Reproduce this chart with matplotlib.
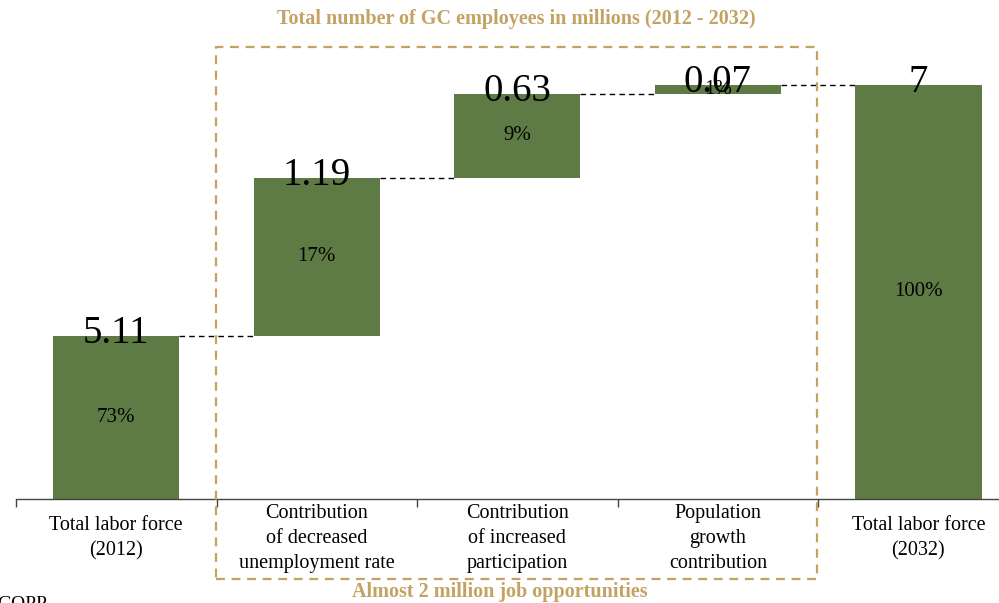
import matplotlib.pyplot as plt
from matplotlib.patches import Rectangle

# data
categories = ['Total labor force\n(2012)',
              'Contribution\nof decreased\nunemployment rate',
              'Contribution\nof increased\nparticipation',
              'Population\ngrowth\ncontribution',
              'Total labor force\n(2032)']
values = [5.11, 1.19, 0.63, 0.07, 7]
value_labels = ['5.11', '1.19', '0.63', '0.07', '7']
shares = ['73%', '17%', '9%', '1%', '100%']

bar_color = '#5E7B45'
gold = '#C4A264'
y_min = 3.88

plt.rcParams['font.family'] = ['Liberation Serif', 'DejaVu Serif']

fig = plt.figure(figsize=(9.99, 6.03), dpi=100)
ax = fig.add_axes([16 / 999, 104 / 603, 983 / 999, 480 / 603])

# waterfall bottoms / tops
bottoms = []
running = 0
for i, v in enumerate(values):
    if i == 0 or i == len(values) - 1:
        bottoms.append(y_min)
        running = v if i == 0 else running
    else:
        bottoms.append(running)
        running += v
tops = [values[0]] + [bottoms[i] + values[i] for i in range(1, len(values) - 1)] + [values[-1]]
heights = [t - b for t, b in zip(tops, bottoms)]

x = list(range(len(values)))
w = 0.63
ax.bar(x, heights, bottom=bottoms, width=w, color=bar_color, zorder=2)

# connectors
for i in range(len(values) - 1):
    ax.plot([x[i] + w / 2, x[i + 1] - w / 2], [tops[i], tops[i]],
            color='black', ls=(0, (4, 3)), lw=1, zorder=1)

for i in range(len(values)):
    ax.annotate(value_labels[i], (x[i], tops[i]), xytext=(0, -5),
                textcoords='offset points', ha='center', va='baseline',
                fontsize=28, color='black', zorder=3)
    ax.text(x[i], (bottoms[i] + tops[i]) / 2, shares[i], ha='center',
            va='center', fontsize=15, color='black', zorder=3)

ax.set_xlim(-0.5, 4.402)
ax.set_ylim(y_min, y_min + 480 / 132.8)
for s in ['top', 'right', 'left']:
    ax.spines[s].set_visible(False)
ax.spines['bottom'].set_color('#444444')
ax.spines['bottom'].set_linewidth(1)
ax.set_yticks([])
ax.set_xticks(x)
ax.set_xticklabels(categories, fontsize=14.5, linespacing=1.45)
ax.tick_params(axis='x', which='major', length=0, pad=28.5)
for lab in ax.get_xticklabels():
    lab.set_va('center')
ax.set_xticks([-0.5, 0.5, 1.5, 2.5, 3.5], minor=True)
ax.tick_params(axis='x', which='minor', length=6, width=1, color='#444444', direction='out')

# dashed box for contributions
fig.patches.append(Rectangle((216 / 999, 1 - 579 / 603), 601 / 999, 532 / 603,
                             transform=fig.transFigure, fill=False,
                             edgecolor=gold, ls=(0, (4, 3)), lw=1.6, zorder=0))

fig.text(516 / 999, 1 - 19 / 603, 'Total number of GC employees in millions (2012 - 2032)',
         ha='center', va='center', fontsize=14.5, fontweight='bold', color=gold)
fig.text(500 / 999, 1 - 592 / 603, 'Almost 2 million job opportunities',
         ha='center', va='center', fontsize=14.5, fontweight='bold', color=gold)
fig.text(-3 / 999, 1 - 596 / 603, 'GOPP', ha='left', va='top', fontsize=14, color='black')

fig.savefig('out.png', dpi=100)
